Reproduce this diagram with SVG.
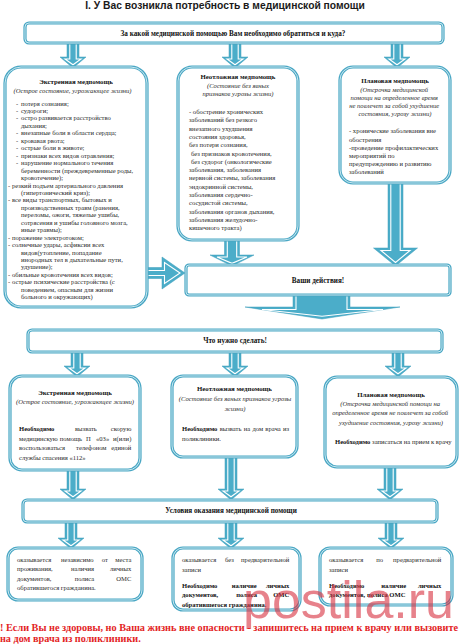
<svg xmlns="http://www.w3.org/2000/svg" width="460" height="644" viewBox="0 0 460 644">
<style>
.bx{fill:#fff;stroke:#4aa7c4;stroke-width:3.2}
.bl{fill:none;stroke:#d6eef5;stroke-width:0.9}
.ao{fill:#4badc9;stroke:#3d9cba;stroke-width:0.5}
.ai{fill:none;stroke:#fff;stroke-width:1.1}
.t{font-family:"Liberation Serif","Times New Roman",serif;font-size:6.6px;fill:#2a2a2a}
.h{font-family:"Liberation Serif","Times New Roman",serif;font-size:7.2px;font-weight:bold;fill:#111}
.s{font-size:6.8px;font-weight:bold;fill:#111}
.b{font-weight:bold;fill:#111}
.i{font-style:italic}
.c{text-anchor:middle}
.e{text-anchor:end}
.title{font-family:"Liberation Sans",Arial,sans-serif;font-size:10.3px;font-weight:bold;fill:#1a1a1a}
.red{font-family:"Liberation Serif","Times New Roman",serif;font-size:10.2px;font-weight:bold;fill:#e3241f}
.wm{font-family:"Liberation Sans",Arial,sans-serif;font-size:52px;fill:#d8303f;opacity:0.6}
</style>

<text class="title c" x="225" y="9">I. У Вас возникла потребность в медицинской помощи</text>

<g id="connectors">
<path class="ao" d="M67 44H79V57H86L73 68L60 57H67Z"/><path class="ai" d="M69.8 44V59H65L73 64.8L81 59H76.2V44"/>
<path class="ao" d="M229 44H241V57H248L235 68L222 57H229Z"/><path class="ai" d="M231.8 44V59H227L235 64.8L243 59H238.2V44"/>
<path class="ao" d="M391 44H403V57H410L397 68L384 57H391Z"/><path class="ai" d="M393.8 44V59H389L397 64.8L405 59H400.2V44"/>

<path class="ao" d="M146 267.5H162V257L185 273L162 289V278.5H146Z"/><path class="ai" d="M146 270.5H164.5V262.5L180 273L164.5 283.5V275.5H146"/>
<path class="ao" d="M224.5 240H239.5V255H254L232 266L210 255H224.5Z"/><path class="ai" d="M227.3 240V257H217L232 263.3L247 257H236.7V240"/>
<path class="ao" d="M388 183H403V248H417.5L395.5 266L373.5 248H388Z"/><path class="ai" d="M390.8 183V250.5H381L395.5 262.5L410 250.5H400.2V183"/>
<path class="ao" d="M293 295H350V307H400L322 319L245 307H293Z"/><path class="ai" d="M296 295V309.5H262L322 316.3L383 309.5H347V295"/>

<path class="ao" d="M71 353H83V366H90L77 377L64 366H71Z"/><path class="ai" d="M73.8 353V368H69L77 373.8L85 368H80.2V353"/>
<path class="ao" d="M229 353H241V366H248L235 377L222 366H229Z"/><path class="ai" d="M231.8 353V368H227L235 373.8L243 368H238.2V353"/>
<path class="ao" d="M392 353H404V366H411L398 377L385 366H392Z"/><path class="ai" d="M394.8 353V368H390L398 373.8L406 368H401.2V353"/>

<path class="ao" d="M67 470H79V489H86L73 500L60 489H67Z"/><path class="ai" d="M69.8 470V491H65L73 496.8L81 491H76.2V470"/>
<path class="ao" d="M225 457H237V489H244L231 500L218 489H225Z"/><path class="ai" d="M227.8 457V491H223L231 496.8L239 491H234.2V457"/>
<path class="ao" d="M384 467H396V489H403L390 500L377 489H384Z"/><path class="ai" d="M386.8 467V491H382L390 496.8L398 491H393.2V467"/>

<path class="ao" d="M65 523H77V538H84L71 549L58 538H65Z"/><path class="ai" d="M67.8 523V540H63L71 545.8L79 540H74.2V523"/>
<path class="ao" d="M225 523H237V538H244L231 549L218 538H225Z"/><path class="ai" d="M227.8 523V540H223L231 545.8L239 540H234.2V523"/>
<path class="ao" d="M385 523H397V538H404L391 549L378 538H385Z"/><path class="ai" d="M387.8 523V540H383L391 545.8L399 540H394.2V523"/>
</g>

<g id="q-box">
<rect class="bx" x="25" y="23" width="418" height="20" rx="4"/><rect class="bl" x="25" y="23" width="418" height="20" rx="4"/>
<text class="h c" x="233" y="35.5">За какой медицинской помощью Вам необходимо обратиться и куда?</text>
</g>

<g id="emergency">
<rect class="bx" x="5" y="67" width="142" height="240" rx="16"/><rect class="bl" x="5" y="67" width="142" height="240" rx="16"/>
<text class="t s c" x="76" y="84.3">Экстренная медпомощь</text>
<text class="t i c" x="72.5" y="92.5">(Острое состояние, угрожающее жизни)</text>
<text class="t">
<tspan x="16" y="105.5">-</tspan><tspan x="21" y="105.5">потеря сознания;</tspan>
<tspan x="16" y="113">-</tspan><tspan x="21" y="113">судороги;</tspan>
<tspan x="16" y="120.4">-</tspan><tspan x="21" y="120.4">остро развивается расстройство</tspan>
<tspan x="21" y="127.9">дыхания;</tspan>
<tspan x="16" y="135.3">-</tspan><tspan x="21" y="135.3">внезапные боли в области сердца;</tspan>
<tspan x="16" y="142.8">-</tspan><tspan x="21" y="142.8">кровавая рвота;</tspan>
<tspan x="16" y="150.2">-</tspan><tspan x="21" y="150.2">острые боли в животе;</tspan>
<tspan x="16" y="157.7">-</tspan><tspan x="21" y="157.7">признаки всех видов отравления;</tspan>
<tspan x="16" y="165.1">-</tspan><tspan x="21" y="165.1">нарушение нормального течения</tspan>
<tspan x="21" y="172.6">беременности (преждевременные роды,</tspan>
<tspan x="21" y="180">кровотечение);</tspan>
<tspan x="8" y="187.5">-</tspan><tspan x="12" y="187.5">резкий подъем артериального давления</tspan>
<tspan x="21" y="194.9">(гипертонический криз);</tspan>
<tspan x="8" y="202.4">-</tspan><tspan x="12" y="202.4">все виды транспортных, бытовых и</tspan>
<tspan x="21" y="209.8">производственных травм (ранения,</tspan>
<tspan x="21" y="217.3">переломы, ожоги, тяжелые ушибы,</tspan>
<tspan x="21" y="224.7">сотрясения и ушибы головного мозга,</tspan>
<tspan x="21" y="232.2">иные травмы);</tspan>
<tspan x="8" y="239.6">-</tspan><tspan x="12" y="239.6">поражение электротоком;</tspan>
<tspan x="8" y="247.1">-</tspan><tspan x="12" y="247.1">солнечные удары, асфиксии всех</tspan>
<tspan x="21" y="254.5">видов(утопление, попадание</tspan>
<tspan x="21" y="262">инородных тел в дыхательные пути,</tspan>
<tspan x="21" y="269.4">удушение);</tspan>
<tspan x="8" y="276.9">-</tspan><tspan x="12" y="276.9">обильные кровотечения всех видов;</tspan>
<tspan x="8" y="284.3">-</tspan><tspan x="12" y="284.3">острые психические расстройства (с</tspan>
<tspan x="21" y="291.8">поведением, опасным для жизни</tspan>
<tspan x="21" y="299.2">больного и окружающих)</tspan>
</text>
</g>

<g id="urgent">
<rect class="bx" x="178" y="67" width="120" height="173" rx="14"/><rect class="bl" x="178" y="67" width="120" height="173" rx="14"/>
<text class="t s c" x="238" y="79">Неотложная медпомощь</text>
<text class="t i c" x="238" y="88.3">(Состояние без явных</text>
<text class="t i c" x="238" y="96.3">признаков угрозы жизни)</text>
<text class="t">
<tspan x="189" y="114">- обострение хронических</tspan>
<tspan x="189" y="122.3">заболеваний без резкого</tspan>
<tspan x="189" y="130.6">внезапного ухудшения</tspan>
<tspan x="189" y="138.9">состояния здоровья,</tspan>
<tspan x="189" y="147.2">без потери сознания,</tspan>
<tspan x="191" y="155.5">без признаков кровотечения,</tspan>
<tspan x="191" y="163.8">без судорог (онкологические</tspan>
<tspan x="189" y="172.1">заболевания, заболевания</tspan>
<tspan x="189" y="180.4">нервной системы, заболевания</tspan>
<tspan x="189" y="188.7">эндокринной системы,</tspan>
<tspan x="189" y="197">заболевания сердечно-</tspan>
<tspan x="189" y="205.3">сосудистой системы,</tspan>
<tspan x="189" y="213.6">заболевания органов дыхания,</tspan>
<tspan x="189" y="221.9">заболевания желудочно-</tspan>
<tspan x="189" y="230.2">кишечного тракта)</tspan>
</text>
</g>

<g id="planned">
<rect class="bx" x="340" y="67" width="110" height="116" rx="13"/><rect class="bl" x="340" y="67" width="110" height="116" rx="13"/>
<text class="t s c" x="395" y="83">Плановая медпомощь</text>
<text class="t i c">
<tspan x="395" y="91.5">(Отсрочка медицинской</tspan>
<tspan x="395" y="99.5">помощи на определенное время</tspan>
<tspan x="395" y="107.5">не повлечет за собой ухудшение</tspan>
<tspan x="395" y="115.5">состояния, угрозу жизни)</tspan>
</text>
<text class="t">
<tspan x="349" y="133.3">- хронические заболевания вне</tspan>
<tspan x="349" y="141.5">обострения</tspan>
<tspan x="349" y="149.7">-проведение профилактических</tspan>
<tspan x="349" y="157.9">мероприятий по</tspan>
<tspan x="349" y="166.1">предупреждению и развитию</tspan>
<tspan x="349" y="174.3">заболеваний</tspan>
</text>
</g>

<g id="actions">
<rect class="bx" x="186" y="265" width="264" height="30" rx="3"/><rect class="bl" x="186" y="265" width="264" height="30" rx="3"/>
<text class="h c" x="318" y="282.5">Ваши действия!</text>
</g>

<g id="todo">
<rect class="bx" x="28" y="330" width="414" height="22" rx="4"/><rect class="bl" x="28" y="330" width="414" height="22" rx="4"/>
<text class="h c" x="235" y="343.3">Что нужно сделать!</text>
</g>

<g id="emergency-do">
<rect class="bx" x="10" y="376" width="130" height="94" rx="12"/><rect class="bl" x="10" y="376" width="130" height="94" rx="12"/>
<text class="t s c" x="75" y="395">Экстренная медпомощь</text>
<text class="t i c" x="75" y="404">(Острое состояние, угрожающее жизни)</text>
<text class="t">
<tspan class="b" x="19" y="431">Необходимо</tspan><tspan x="75" y="431">вызвать</tspan><tspan class="e" x="133" y="431">скорую</tspan>
<tspan x="19" y="440.5">медицинскую</tspan><tspan x="59.8" y="440.5">помощь</tspan><tspan x="86" y="440.5">П</tspan><tspan x="96" y="440.5">«03»</tspan><tspan class="e" x="133" y="440.5">и(или)</tspan>
<tspan x="19" y="450">воспользоваться</tspan><tspan x="76" y="450">телефоном</tspan><tspan class="e" x="133" y="450">единой</tspan>
<tspan x="19" y="459.5">службы спасения «112»</tspan>
</text>
</g>

<g id="urgent-do">
<rect class="bx" x="172" y="376" width="125" height="81" rx="11"/><rect class="bl" x="172" y="376" width="125" height="81" rx="11"/>
<text class="t s c" x="234.5" y="390.5">Неотложная медпомощь</text>
<text class="t i c" x="235" y="400.5">(Состояние без явных признаков угрозы</text>
<text class="t i c" x="235" y="410.5">жизни)</text>
<text class="t" x="182" y="430.5" word-spacing="0.6"><tspan class="b">Необходимо</tspan> вызвать на дом врача из</text>
<text class="t" x="182" y="440.5">поликлиники.</text>
</g>

<g id="planned-do">
<rect class="bx" x="325" y="377" width="132" height="90" rx="12"/><rect class="bl" x="325" y="377" width="132" height="90" rx="12"/>
<text class="t s c" x="391" y="397">Плановая медпомощь</text>
<text class="t i c">
<tspan x="391" y="406">(Отсрочка медицинской помощи на</tspan>
<tspan x="391" y="415.3">определенное время не повлечет за собой</tspan>
<tspan x="391" y="424.6">ухудшение состояния, угрозу жизни)</tspan>
</text>
<text class="t" x="335" y="443.5"><tspan class="b">Необходимо</tspan> записаться на прием к врачу</text>
</g>

<g id="conditions">
<rect class="bx" x="23" y="500" width="414" height="22" rx="4"/><rect class="bl" x="23" y="500" width="414" height="22" rx="4"/>
<text class="h c" x="231" y="513">Условия оказания медицинской помощи</text>
</g>

<g id="cond-emergency">
<rect class="bx" x="8" y="548" width="134" height="52" rx="10"/><rect class="bl" x="8" y="548" width="134" height="52" rx="10"/>
<text class="t">
<tspan x="17" y="561.5">оказывается</tspan><tspan x="61" y="561.5">независимо</tspan><tspan x="101.8" y="561.5">от</tspan><tspan class="e" x="133" y="561.5">места</tspan>
<tspan x="17" y="571">проживания,</tspan><tspan x="70.9" y="571">наличия</tspan><tspan class="e" x="133" y="571">личных</tspan>
<tspan x="17" y="580.5">документов,</tspan><tspan x="74.8" y="580.5">полиса</tspan><tspan class="e" x="133" y="580.5">ОМС</tspan>
<tspan x="17" y="590">обратившегося гражданина.</tspan>
</text>
</g>

<g id="cond-urgent">
<rect class="bx" x="173" y="548" width="127" height="62" rx="10"/><rect class="bl" x="173" y="548" width="127" height="62" rx="10"/>
<text class="t">
<tspan x="182" y="561.5">оказывается</tspan><tspan x="225" y="561.5">без</tspan><tspan class="e" x="291" y="561.5">предварительной</tspan>
<tspan x="182" y="571.5">записи</tspan>
</text>
<text class="t b">
<tspan x="182" y="587.5">Необходимо</tspan><tspan x="231.7" y="587.5">наличие</tspan><tspan class="e" x="291" y="587.5">личных</tspan>
<tspan x="182" y="597">документов,</tspan><tspan x="236.2" y="597">полиса</tspan><tspan class="e" x="291" y="597">ОМС</tspan>
<tspan x="182" y="606.5">обратившегося гражданина.</tspan>
</text>
</g>

<g id="cond-planned">
<rect class="bx" x="320" y="548" width="132" height="57" rx="10"/><rect class="bl" x="320" y="548" width="132" height="57" rx="10"/>
<text class="t">
<tspan x="329" y="561.5">оказывается</tspan><tspan x="376.2" y="561.5">по</tspan><tspan class="e" x="443" y="561.5">предварительной</tspan>
<tspan x="329" y="571.5">записи</tspan>
</text>
<text class="t b">
<tspan x="329" y="587.5">Необходимо</tspan><tspan x="381.2" y="587.5">наличие</tspan><tspan class="e" x="443" y="587.5">личных</tspan>
<tspan x="329" y="597">документов, полиса ОМС</tspan>
</text>
</g>

<text class="wm" x="243" y="618">postila.ru</text>

<text class="red" x="0" y="630.5" textLength="458" lengthAdjust="spacingAndGlyphs">! Если Вы не здоровы, но Ваша жизнь вне опасности - запишитесь на прием к врачу или вызовите</text>
<text class="red" x="0" y="641.5">на дом врача из поликлиники.</text>
</svg>
